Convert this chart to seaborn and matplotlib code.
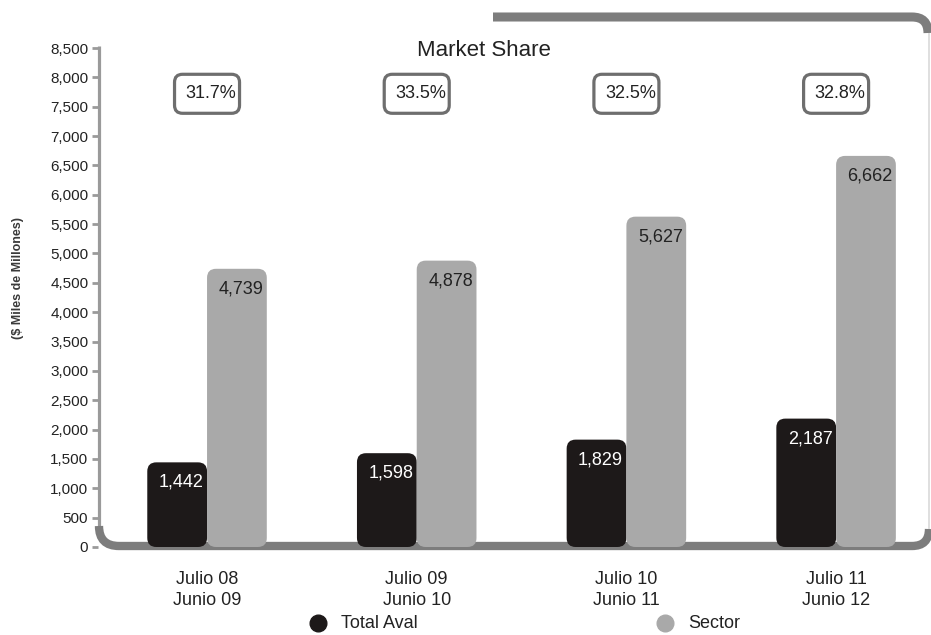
import matplotlib
matplotlib.use("Agg")
import matplotlib.pyplot as plt
import matplotlib.transforms as mtransforms
from matplotlib.patches import FancyBboxPatch, PathPatch
from matplotlib.path import Path
from matplotlib.lines import Line2D
import pandas as pd
import seaborn as sns

# --- data -------------------------------------------------------------
periodos = ["Julio 08\nJunio 09", "Julio 09\nJunio 10", "Julio 10\nJunio 11", "Julio 11\nJunio 12"]
total_aval = [1442, 1598, 1829, 2187]
sector = [4739, 4878, 5627, 6662]
market_share = ["31.7%", "33.5%", "32.5%", "32.8%"]
series = ["Total Aval", "Sector"]
y_ticks = list(range(0, 8501, 500))

# --- style ------------------------------------------------------------
sns.set_style("white")
plt.rcParams["font.family"] = ["Liberation Sans", "DejaVu Sans"]

NEGRO = "#1d1919"
GRIS = "#a9a9a9"
MARCO = "#7d7d7d"

W, H = 931, 635
fig = plt.figure(figsize=(W / 100, H / 100), dpi=100)
ax = fig.add_axes([98 / W, 88 / H, 827 / W, 499 / H])

df = pd.DataFrame({
    "periodo": periodos * 2,
    "serie": [series[0]] * len(periodos) + [series[1]] * len(periodos),
    "valor": total_aval + sector,
})

sns.barplot(data=df, x="periodo", y="valor", hue="serie", hue_order=series,
            palette=[NEGRO, GRIS], width=0.57, gap=0, saturation=1,
            errorbar=None, legend=False, ax=ax)

ax.set_xlim(-0.52, 3.424)
ax.set_ylim(0, 8500)

# aspect between y-data units and x-data units per pixel
px_x = (3.424 + 0.52) / 827
px_y = 8500 / 499
aspect = px_y / px_x

# rounded bars
for bar in list(ax.patches):
    x0, y0 = bar.get_x(), bar.get_y()
    w, h = bar.get_width(), bar.get_height()
    fc = bar.get_facecolor()
    bar.remove()
    ax.add_patch(FancyBboxPatch((x0, y0), w, h,
                                boxstyle=f"round,pad=0,rounding_size={9 * px_x}",
                                mutation_aspect=aspect, fc=fc, ec="none", zorder=3))

# value labels inside bars
for i, (a, s) in enumerate(zip(total_aval, sector)):
    ax.text(i - 0.1425 + 4 * px_x, a - 20 * px_y, f"{a:,}", ha="center", va="center",
            color="white", fontsize=13, zorder=4)
    ax.text(i + 0.1425 + 4 * px_x, s - 20 * px_y, f"{s:,}", ha="center", va="center",
            color="#222222", fontsize=13, zorder=4)

# market share boxes
box_w, box_h = 65 * px_x, 39 * px_y
for i, ms in enumerate(market_share):
    yc = 7720
    ax.add_patch(FancyBboxPatch((i - box_w / 2, yc - box_h / 2), box_w, box_h,
                                boxstyle=f"round,pad=0,rounding_size={8 * px_x}",
                                mutation_aspect=aspect, fc="white", ec="#6e6e6e",
                                lw=2.3, zorder=3, clip_on=False))
    ax.text(i + 4 * px_x, yc, ms, ha="center", va="center", fontsize=13,
            color="#222222", zorder=4, clip_on=False)

# axes styling
for sp in ax.spines.values():
    sp.set_visible(False)
ax.set_yticks(y_ticks)
ax.set_yticklabels([f"{v:,}" for v in y_ticks])
ax.tick_params(axis="y", length=4, width=2, color="#9a9a9a", pad=3,
               labelsize=11, labelcolor="#222222", left=True)
ax.tick_params(axis="x", length=0, pad=17, labelsize=13, labelcolor="#222222")
for lbl in ax.get_xticklabels():
    lbl.set_linespacing(1.3)
ax.set_xlabel("")
ax.set_ylabel("")

# frame decoration (pixel coordinates, origin top-left)
px = mtransforms.Affine2D().scale(1 / W, -1 / H).translate(0, 1) + fig.transFigure

left_axis = Path([(99, 46), (99, 532)], [Path.MOVETO, Path.LINETO])
ax.add_patch(PathPatch(left_axis, transform=px, fill=False, ec="#9a9a9a", lw=2.3,
                       clip_on=False, zorder=1))

base = Path([(99, 526), (99, 546), (119, 546), (912, 546), (929, 546), (929, 529)],
            [Path.MOVETO, Path.CURVE3, Path.CURVE3, Path.LINETO, Path.CURVE3, Path.CURVE3])
ax.add_patch(PathPatch(base, transform=px, fill=False, ec=MARCO, lw=6,
                       capstyle="butt", clip_on=False, zorder=1))

top = Path([(493, 17), (912, 17), (928, 17), (928, 33)],
           [Path.MOVETO, Path.LINETO, Path.CURVE3, Path.CURVE3])
ax.add_patch(PathPatch(top, transform=px, fill=False, ec=MARCO, lw=6.5,
                       capstyle="butt", clip_on=False, zorder=1))

right = Path([(929, 33), (929, 529)], [Path.MOVETO, Path.LINETO])
ax.add_patch(PathPatch(right, transform=px, fill=False, ec="#d9d9d9", lw=1.2,
                       clip_on=False, zorder=1))

# title and axis label
fig.text(484 / W, 1 - 50 / H, "Market Share", ha="center", va="center",
         fontsize=16, color="#222222")
fig.text(18 / W, 1 - 278 / H, "($ Miles de Millones)", rotation=90, ha="center",
         va="center", fontsize=9, fontweight="bold", color="#3a3a3a",
         family=["Liberation Sans Narrow", "Liberation Sans", "DejaVu Sans"])

# legend
for cx, color, label in [(318, NEGRO, series[0]), (665, GRIS, series[1])]:
    fig.add_artist(Line2D([cx], [623], transform=px, marker="o", markersize=12,
                          color=color, linestyle="none"))
    fig.text((cx + 23) / W, 1 - 624 / H, label, ha="left", va="center",
             fontsize=13, color="#222222")

fig.savefig("out.png", dpi=100, facecolor="white")
